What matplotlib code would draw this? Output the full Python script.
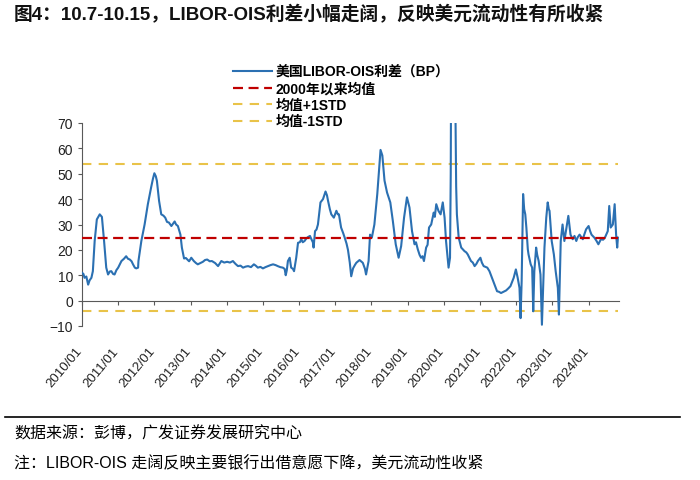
import matplotlib
matplotlib.use("Agg")
import matplotlib.pyplot as plt
from matplotlib.lines import Line2D
from matplotlib.transforms import ScaledTranslation

plt.rcParams["font.family"] = ["Liberation Sans", "Noto Sans CJK SC", "DejaVu Sans"]

TITLE = "图4：10.7-10.15，LIBOR-OIS利差小幅走阔，反映美元流动性有所收紧"
SOURCE = "数据来源：彭博，广发证券发展研究中心"
NOTE = "注：LIBOR-OIS 走阔反映主要银行出借意愿下降，美元流动性收紧"

# fractional year / spread in bp
years = [
    2010.00, 2010.04, 2010.07, 2010.12, 2010.17, 2010.21, 2010.26, 2010.30, 2010.35, 2010.41,
    2010.45, 2010.49, 2010.55, 2010.61, 2010.67, 2010.72, 2010.77, 2010.81, 2010.86, 2010.90,
    2010.95, 2011.00, 2011.09, 2011.16, 2011.22, 2011.27, 2011.32, 2011.37, 2011.41, 2011.46,
    2011.50, 2011.55, 2011.56, 2011.64, 2011.73, 2011.82, 2011.91, 2011.96, 2012.00, 2012.04,
    2012.07, 2012.13, 2012.19, 2012.25, 2012.30, 2012.35, 2012.40, 2012.47, 2012.56, 2012.60,
    2012.65, 2012.72, 2012.76, 2012.82, 2012.87, 2012.91, 2012.96, 2013.02, 2013.09, 2013.15,
    2013.20, 2013.27, 2013.34, 2013.40, 2013.46, 2013.53, 2013.59, 2013.68, 2013.76, 2013.85,
    2013.93, 2014.01, 2014.09, 2014.17, 2014.24, 2014.31, 2014.38, 2014.45, 2014.52, 2014.59,
    2014.67, 2014.75, 2014.80, 2014.86, 2014.93, 2015.00, 2015.07, 2015.14, 2015.21, 2015.28,
    2015.35, 2015.41, 2015.48, 2015.55, 2015.60, 2015.63, 2015.66, 2015.69, 2015.74, 2015.78,
    2015.83, 2015.86, 2015.92, 2015.97, 2016.02, 2016.06, 2016.10, 2016.15, 2016.20, 2016.24,
    2016.30, 2016.33, 2016.38, 2016.40, 2016.44, 2016.48, 2016.52, 2016.59, 2016.66, 2016.73,
    2016.77, 2016.80, 2016.85, 2016.89, 2016.96, 2017.03, 2017.07, 2017.10, 2017.16, 2017.22,
    2017.26, 2017.31, 2017.35, 2017.40, 2017.44, 2017.49, 2017.54, 2017.58, 2017.67, 2017.76,
    2017.82, 2017.85, 2017.92, 2017.96, 2018.01, 2018.08, 2018.16, 2018.22, 2018.25, 2018.30,
    2018.36, 2018.43, 2018.52, 2018.59, 2018.67, 2018.75, 2018.82, 2018.90, 2018.98, 2019.05,
    2019.12, 2019.19, 2019.23, 2019.28, 2019.33, 2019.37, 2019.41, 2019.45, 2019.51, 2019.55,
    2019.59, 2019.65, 2019.72, 2019.75, 2019.79, 2019.85, 2019.91, 2019.97, 2020.02, 2020.06,
    2020.13, 2020.17, 2020.19, 2020.20, 2020.22, 2020.26, 2020.29, 2020.32, 2020.34, 2020.36,
    2020.41, 2020.48, 2020.57, 2020.62, 2020.66, 2020.70, 2020.75, 2020.80, 2020.85, 2020.90,
    2020.94, 2021.01, 2021.05, 2021.10, 2021.20, 2021.26, 2021.33, 2021.40, 2021.47, 2021.52,
    2021.58, 2021.65, 2021.72, 2021.78, 2021.84, 2021.93, 2021.99, 2022.04, 2022.09, 2022.12,
    2022.15, 2022.19, 2022.22, 2022.25, 2022.28, 2022.32, 2022.34, 2022.40, 2022.44, 2022.47,
    2022.50, 2022.55, 2022.58, 2022.62, 2022.67, 2022.71, 2022.75, 2022.78, 2022.83, 2022.87,
    2022.90, 2022.92, 2022.98, 2023.04, 2023.09, 2023.15, 2023.18, 2023.21, 2023.23, 2023.28,
    2023.33, 2023.38, 2023.44, 2023.50, 2023.56, 2023.61, 2023.66, 2023.70, 2023.75, 2023.80,
    2023.84, 2023.88, 2023.93, 2024.00, 2024.04, 2024.08, 2024.16, 2024.22, 2024.27, 2024.34,
    2024.40, 2024.45, 2024.53, 2024.57, 2024.61, 2024.67, 2024.72, 2024.76, 2024.79, 2024.81,
]
spread = [
    11, 10.5, 9, 9.5, 6.3, 8, 9, 11.6, 23.5, 32,
    33, 34, 33, 23.5, 13, 10.3, 11.5, 11.6, 10.5, 10.3,
    12, 13, 15.6, 16.5, 17.5, 16.5, 16.2, 15.5, 14.3, 13,
    12.7, 13, 15.6, 23.5, 30, 38, 44.6, 48, 50.2, 49,
    47.2, 39.3, 34, 33.5, 32.7, 31, 30.8, 29.4, 31.2, 30,
    29.4, 26, 20.9, 16.6, 16.8, 16.2, 15.5, 16.9, 15.6, 14.8,
    14.3, 14.8, 15.3, 16, 16.2, 15.5, 15.6, 14.8, 13.6, 15.6,
    15.0, 15.3, 15.0, 15.6, 14.5, 13.6, 13.8, 13, 13.4, 13.6,
    13.2, 14.3, 13.8, 13, 13.3, 12.7, 13.2, 13.6, 14, 14.3,
    14.0, 13.6, 13.2, 13, 12.5, 10, 12, 15.6, 16.9, 13,
    12.5, 11.6, 16.9, 22.8, 23, 24.2, 23, 23.5, 24.5, 25,
    25.5, 24.5, 23, 20.9, 27.4, 28, 30, 38.7, 40, 43,
    41.5, 39.3, 36, 34, 32.7, 35.4, 34, 34, 28.8, 26.5,
    24.8, 22.5, 20, 15, 9.6, 12.7, 14, 14.9, 16, 14.9,
    12.5, 10.3, 15.6, 26, 24.8, 30, 42, 53.9, 59.4, 57.2,
    47.3, 42.6, 38.7, 31.4, 22.2, 16.9, 21.5, 32.7, 40.7, 36.7,
    27.4, 22.2, 23, 20.2, 18, 16.9, 17.5, 15.6, 20.9, 22,
    28.8, 30, 34.7, 33, 38, 35.4, 34, 38.7, 32.7, 23.5,
    13, 16.9, 50, 90, 140, 120, 95, 75, 45, 34,
    24.8, 20.9, 19.5, 19.0, 18.2, 17, 15.6, 15, 13.6, 14.5,
    15.6, 16.9, 15, 13.6, 13, 11.6, 9, 6.3, 3.7, 3.5,
    3, 3.5, 4, 4.8, 5.7, 9, 12.3, 9, 5, -6.9,
    7.7, 42, 36, 34, 28.8, 20.2, 18.2, 14.3, 13, -4.2,
    11.6, 20.9, 18, 15.6, 10.3, -9.5, 7.7, 20.9, 32.7, 38.7,
    36, 35.4, 23.5, 18.2, 11.6, 5, -5.5, 13, 23.5, 30,
    23.5, 28.1, 33.4, 26, 24.2, 25.5, 23.5, 25, 26, 25,
    24.2, 26, 28.1, 29.4, 27.5, 26, 24.8, 23.5, 22.2, 24.2,
    24, 24.8, 27.4, 37.3, 28.8, 30, 38, 26, 20.9, 24.8,
]

MEAN_2000 = 24.8
STD_UP = 53.9
STD_DN = -4.2

tick_years = list(range(2010, 2025))
tick_labels = [f"{y}/01" for y in tick_years]

fig = plt.figure(figsize=(7, 4.81), dpi=100)
ax = fig.add_axes([82 / 700, 1 - 327 / 481, 537 / 700, 203 / 481])

ax.plot(years, spread, color="#2B70B2", lw=1.5, label="美国LIBOR-OIS利差（BP）", zorder=3)
ax.hlines(MEAN_2000, years[0], years[-1], color="#C00000", lw=1.6,
          linestyles=(0, (4.5, 2.5)), label="2000年以来均值", zorder=4)
ax.hlines(STD_UP, years[0], years[-1], color="#E9C349", lw=1.5,
          linestyles=(0, (4.5, 3.5)), label="均值+1STD", zorder=2)
ax.hlines(STD_DN, years[0], years[-1], color="#E9C349", lw=1.5,
          linestyles=(0, (4.5, 3.5)), label="均值-1STD", zorder=2)

# x axis line sits at zero; do this before tick setup since it resets ticks
for side in ["top", "right"]:
    ax.spines[side].set_visible(False)
ax.spines["bottom"].set_position(("data", 0))
ax.spines["bottom"].set_color("#595959")
ax.spines["left"].set_color("#595959")

ax.set_xlim(2010, 2024.84)
ax.set_ylim(-10, 70)
ax.set_yticks(range(-10, 71, 10))
ax.set_xticks(tick_years)
ax.set_xticklabels(tick_labels, rotation=50, ha="right", va="top")
ax.tick_params(axis="both", colors="#595959", labelcolor="#222222", labelsize=10,
               length=3, width=0.8)
ax.tick_params(axis="x", pad=0, labelsize=9.5)

shift = ScaledTranslation(0.03, -0.40, fig.dpi_scale_trans)
for lab in ax.get_xticklabels():
    lab.set_transform(lab.get_transform() + shift)

ax.legend(loc="upper left", bbox_to_anchor=(226 / 700, 1 - 59 / 481),
          bbox_transform=fig.transFigure, frameon=False,
          handlelength=2.8, handletextpad=0.3, labelspacing=0.18, borderpad=0,
          prop={"weight": "bold", "size": 10})

fig.text(14 / 700, 1 - 15 / 481, TITLE, fontsize=13.5, fontweight="bold",
         va="center", ha="left", color="#111111")

fig.add_artist(Line2D([5 / 700, 680 / 700], [1 - 418 / 481, 1 - 418 / 481],
                      color="black", lw=1.2))
fig.text(14 / 700, 1 - 434 / 481, SOURCE, fontsize=11.5, va="center", ha="left")
fig.text(14 / 700, 1 - 463 / 481, NOTE, fontsize=11.5, va="center", ha="left")

fig.savefig("out.png", dpi=100)
